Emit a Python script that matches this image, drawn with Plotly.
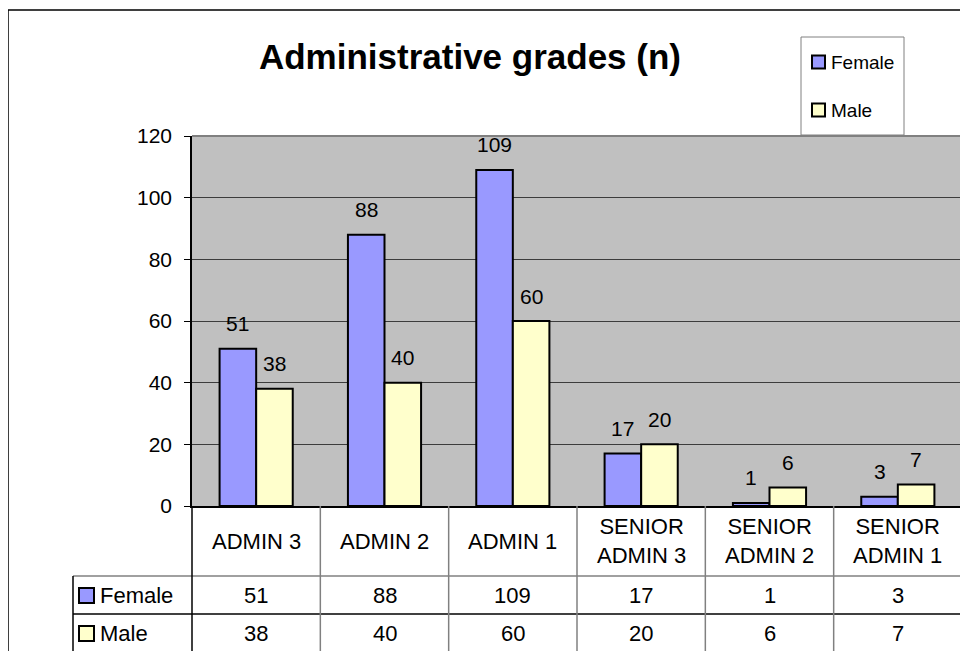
import plotly.graph_objects as go

# ---- data ----
categories = ["ADMIN 3", "ADMIN 2", "ADMIN 1", "SENIOR ADMIN 3", "SENIOR ADMIN 2", "SENIOR ADMIN 1"]
header_labels = ["ADMIN 3", "ADMIN 2", "ADMIN 1", "SENIOR<br>ADMIN 3", "SENIOR<br>ADMIN 2", "SENIOR<br>ADMIN 1"]
female = [51, 88, 109, 17, 1, 3]
male = [38, 40, 60, 20, 6, 7]
series_names = ["Female", "Male"]
colors = ["#9999FF", "#FFFFCC"]
y_ticks = [0, 20, 40, 60, 80, 100, 120]
title_text = "Administrative grades (n)"

FONT = "Liberation Sans, Arial, sans-serif"

# page offset (body margin) and plot-area geometry in page pixels
OFF = 8
L, R, T, B = 192, 962, 136, 506
W, H = R - L, B - T


def px(X):
    return (X - L) / W


def py(Y):
    return (B - Y) / H


fig = go.Figure()
for name, vals, col in zip(series_names, [female, male], colors):
    fig.add_trace(go.Bar(
        name=name, x=categories, y=vals,
        marker=dict(color=col, line=dict(color="black", width=2)),
        showlegend=False, hoverinfo="x+y+name",
    ))

shapes = []
annotations = []

# data labels above bars
bar_px = 36.5
for k, vals in enumerate([female, male]):
    off = -bar_px / 2 if k == 0 else bar_px / 2
    for c, v in zip(categories, vals):
        annotations.append(dict(
            x=c, y=v, xref="x", yref="y", text=str(v), showarrow=False,
            xshift=off, yshift=25, yanchor="middle", xanchor="center",
            font=dict(family=FONT, size=21, color="black"),
        ))

# plot-area gray border (top & right)
shapes.append(dict(type="line", xref="paper", yref="paper", x0=0, x1=1, y0=1, y1=1,
                   line=dict(color="#808080", width=2), layer="above"))
shapes.append(dict(type="line", xref="paper", yref="paper", x0=1, x1=1, y0=0, y1=1,
                   line=dict(color="#808080", width=2), layer="above"))

# outer chart frame
shapes.append(dict(type="rect", xref="paper", yref="paper",
                   x0=px(8), x1=px(990), y0=py(10), y1=py(700),
                   line=dict(color="black", width=1.5), fillcolor="rgba(0,0,0,0)", layer="above"))

# legend box (top)
shapes.append(dict(type="rect", xref="paper", yref="paper",
                   x0=px(801), x1=px(904), y0=py(135), y1=py(37),
                   line=dict(color="#808080", width=1), fillcolor="white", layer="above"))
leg_y = [62, 110]
for name, col, yy in zip(series_names, colors, leg_y):
    shapes.append(dict(type="rect", xref="paper", yref="paper",
                       x0=px(812), x1=px(825), y0=py(yy + 6.5), y1=py(yy - 6.5),
                       line=dict(color="black", width=2), fillcolor=col, layer="above"))
    annotations.append(dict(x=px(829), y=py(yy), xref="paper", yref="paper", text=name,
                            showarrow=False, xanchor="left", yanchor="middle",
                            font=dict(family=FONT, size=19, color="black")))

# ---- data table ----
row_top, row_mid = 576, 614
bottom = 700
shapes.append(dict(type="line", xref="paper", yref="paper", x0=px(73), x1=1,
                   y0=py(row_top), y1=py(row_top), line=dict(color="#808080", width=1.5)))
shapes.append(dict(type="line", xref="paper", yref="paper", x0=px(73), x1=1,
                   y0=py(row_mid), y1=py(row_mid), line=dict(color="black", width=1.5)))
shapes.append(dict(type="line", xref="paper", yref="paper", x0=px(73), x1=px(73),
                   y0=py(row_top), y1=py(bottom), line=dict(color="black", width=1.5)))
shapes.append(dict(type="line", xref="paper", yref="paper", x0=0, x1=0,
                   y0=0, y1=py(bottom), line=dict(color="black", width=1.5)))
shapes.append(dict(type="line", xref="paper", yref="paper", x0=1, x1=1,
                   y0=0, y1=py(bottom), line=dict(color="#808080", width=1.5)))
for i in range(len(categories) - 1):
    shapes.append(dict(type="line", xref="x", yref="paper", x0=i + 0.5, x1=i + 0.5,
                       y0=0, y1=py(bottom), line=dict(color="#808080", width=1.5)))

# header labels
for c, lab in zip(categories, header_labels):
    annotations.append(dict(x=c, y=py(541), xref="x", yref="paper", text=lab,
                            showarrow=False, xanchor="center", yanchor="middle",
                            font=dict(family=FONT, size=22, color="black")))

# table rows
row_centers = [595, 633]
for name, col, vals, yy in zip(series_names, colors, [female, male], row_centers):
    shapes.append(dict(type="rect", xref="paper", yref="paper",
                       x0=px(79), x1=px(94), y0=py(yy + 8), y1=py(yy - 7),
                       line=dict(color="black", width=2), fillcolor=col))
    annotations.append(dict(x=px(98), y=py(yy), xref="paper", yref="paper", text=name,
                            showarrow=False, xanchor="left", yanchor="middle",
                            font=dict(family=FONT, size=22, color="black")))
    for c, v in zip(categories, vals):
        annotations.append(dict(x=c, y=py(yy), xref="x", yref="paper", text=str(v),
                                showarrow=False, xanchor="center", yanchor="middle",
                                font=dict(family=FONT, size=22, color="black")))

FW, FH = 968, 651
fig.update_layout(
    width=FW, height=FH,
    margin=dict(l=L - OFF, r=FW - (R - OFF), t=T - OFF, b=FH - (B - OFF)),
    paper_bgcolor="white", plot_bgcolor="#C0C0C0",
    barmode="group", bargap=0.43, bargroupgap=0,
    title=dict(text=title_text, x=(470 - OFF) / FW, xanchor="center",
               y=1 - (57 - OFF) / FH, yanchor="middle",
               font=dict(family=FONT, size=35, color="black", weight="bold")),
    xaxis=dict(type="category", range=[-0.5, len(categories) - 0.5], showticklabels=False,
               ticks="", showline=True, linecolor="black", linewidth=1.5, showgrid=False,
               zeroline=False, fixedrange=True),
    yaxis=dict(range=[0, 120], tickvals=y_ticks, ticks="outside", ticklen=6, tickcolor="black",
               tickwidth=1, showline=True, linecolor="black", linewidth=1.5,
               gridcolor="#3c3c3c", gridwidth=1, zeroline=False, ticklabelstandoff=8,
               tickfont=dict(family=FONT, size=21, color="black"), fixedrange=True),
    shapes=shapes, annotations=annotations,
    showlegend=False,
)

fig.write_html("out.html")
